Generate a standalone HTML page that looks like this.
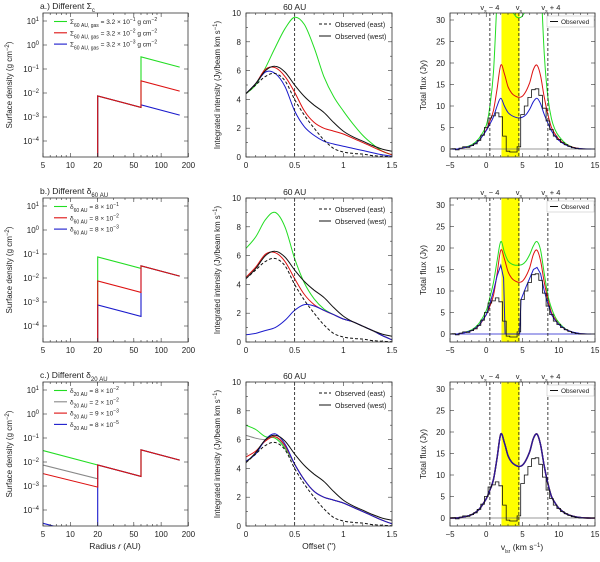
<!DOCTYPE html>
<html><head><meta charset="utf-8"><style>
body{margin:0;background:#fff}
svg{font-family:"Liberation Sans",sans-serif;}
text{fill:#222}
</style></head><body>
<svg id="fig" width="600" height="557" viewBox="0 0 600 557" xmlns="http://www.w3.org/2000/svg"></svg>
<script>
// ---------- column 1: surface density ----------
const sdA_r = [20,20,60,60,160];
const sdA_green = [1e-6,7.5e-3,2.5e-3,0.32,0.12];
const sdA_red = [1e-6,7.5e-3,2.5e-3,0.032,0.012];
const sdA_blue = [1e-6,7.5e-3,2.5e-3,3.2e-3,1.2e-3];
const sdB_r = [20,20,60,60,160];
const sdB_green = [1e-6,0.075,0.025,0.032,0.012];
const sdB_red = [1e-6,7.5e-3,2.5e-3,0.032,0.012];
const sdB_blue = [1e-6,7.5e-4,2.5e-4,0.032,0.012];
const sdC_r = [5,20,20,60,60,160];
const sdC_green = [0.03,0.0075,0.0075,0.0025,0.032,0.012];
const sdC_gray = [0.0075,0.002,0.0075,0.0025,0.032,0.012];
const sdC_red = [0.0033,0.0009,0.0075,0.0025,0.032,0.012];
const sdC_blue = [2.8e-5,7e-6,0.0075,0.0025,0.032,0.012];
const sdYTicks = [1,0,-1,-2,-3,-4];
const sdXTicks = [5,10,20,50,100,200];
// ---------- column 2: intensity profiles ----------
const offX = [0,0.1,0.2,0.3,0.4,0.5,0.6,0.7,0.8,0.9,1.0,1.1,1.2,1.3,1.4,1.5];
const ipA_green = [4.4,5.0,6.2,7.6,8.9,9.7,9.2,7.6,5.6,4.2,3.2,2.3,1.5,0.9,0.4,0.15];
const ipA_red = [4.4,5.1,6.1,6.2,5.6,4.5,3.2,2.4,2.0,1.8,1.6,1.3,1.0,0.7,0.4,0.15];
const ipA_blue = [4.4,5.1,5.9,5.8,4.9,3.2,2.1,1.5,1.1,0.9,0.75,0.6,0.45,0.3,0.15,0.05];
const ipB_green = [6.5,7.3,8.5,9.0,8.0,5.8,4.1,3.0,2.3,1.9,1.6,1.4,1.1,0.8,0.45,0.15];
const ipB_red = [4.5,5.2,6.1,6.2,5.6,4.4,3.3,2.6,2.2,1.9,1.6,1.4,1.1,0.8,0.45,0.15];
const ipB_blue = [0.5,0.6,0.8,1.0,1.5,2.2,2.6,2.5,2.2,1.9,1.6,1.4,1.1,0.8,0.45,0.15];
const ipC_green = [7.0,6.7,6.2,6.1,5.4,4.3,3.2,2.4,2.0,1.8,1.6,1.3,1.0,0.7,0.4,0.15];
const ipC_gray = [6.3,6.1,6.0,6.2,5.5,4.3,3.2,2.4,2.0,1.8,1.6,1.3,1.0,0.7,0.4,0.15];
const ipC_red = [4.8,5.2,5.9,6.2,5.6,4.3,3.2,2.4,2.0,1.8,1.6,1.3,1.0,0.7,0.4,0.15];
const ipC_blue = [4.5,5.0,6.0,6.4,5.7,4.3,3.2,2.4,2.0,1.8,1.6,1.3,1.0,0.7,0.4,0.15];
const obsWest = [4.4,5.1,6.0,6.3,5.9,5.0,4.2,3.6,3.1,2.4,1.8,1.4,1.1,0.8,0.55,0.4];
const obsEast = [4.4,5.0,5.6,5.8,5.3,4.0,2.9,2.0,1.2,0.6,0.35,0.25,0.2,0.1,0.05,0.02];
const ipYTicks = [0,2,4,6,8,10];
const ipXTicks = [0,0.5,1,1.5];
// ---------- column 3: spectra ----------
const specX = [-5,-4,-3,-2,-1,0,0.5,1,1.5,2,2.5,3,3.5,4,4.5,5,5.5,6,6.5,7,7.5,8,8.5,9,9.5,10,11,12,13,14,15];
const spA_green = [0,0,0.4,1,2.5,5.5,10,18,35,50,50,40,33,31,30.5,31,33,40,50,50,40,22,12,7,4.5,3,1.2,0.4,0.1,0,0];
const spA_red = [0,0,0.3,0.8,2,4.5,6.5,9,14,19.5,17.5,14.5,13,12.3,12,12.3,13.5,15.5,18.5,19.5,17,12,8,5,3.5,2.3,1,0.4,0.1,0,0];
const spA_blue = [0,0,0.3,0.8,2,4.3,5.8,7.5,10,11.8,10,8.5,7.8,7.4,7.2,7.4,8,9.3,11,11.8,10.5,8,6,4.2,3,2,0.9,0.3,0.1,0,0];
const spB_green = [0,0,0.4,1,2.5,5.5,8.5,12,17,21.5,19,17,16.3,16,16,16.2,17,18.5,20.5,21.5,19.5,14,9,6,4,2.7,1.1,0.4,0.1,0,0];
const spB_red = [0,0,0.3,0.8,2,4.5,6.5,9,14,19.5,17.5,14.5,13,12.3,12,12.3,13.5,15.5,18.5,19.5,17,12,8,5,3.5,2.3,1,0.4,0.1,0,0];
const specXb = [-5,-4,-3,-2,-1,0,0.5,1,1.5,2,2.4,2.6,3,4,4.6,4.8,5.5,6,6.5,7,7.5,8,8.5,9,9.5,10,11,12,13,14,15];
const spB_blue = [0,0,0.3,0.8,2,4.5,7,10,13.5,16,13,0,0,0,0,8,11,13,15,15.5,14,10,7,4.5,3.2,2.2,1,0.4,0.1,0,0];
const spC_all = [0,0,0.3,0.8,2,4.5,6.5,9,14,19.5,17.5,14.5,13,12.3,12,12.3,13.5,15.5,18.5,19.5,17,12,8,5,3.5,2.3,1,0.4,0.1,0,0];
const obsX = [-5,-4.5,-4,-3.5,-3,-2.5,-2,-1.5,-1,-0.5,0,0.5,1,1.5,2,2.5,3,3.5,4,4.5,5,5.5,6,6.5,7,7.5,8,8.5,9,9.5,10,10.5,11,11.5,12,12.5,13,13.5,14,14.5,15];
const obsFlux = [0,0.1,-0.2,0.2,0.5,0.4,0.8,1.2,2,3.2,5,7.2,7.7,8.4,7.5,3,-0.5,-0.7,-0.7,0.5,8,10,12,13.8,14,12.5,9.5,6.5,4.5,3,2.2,1.5,1,0.6,0.3,0.1,0,0,0,0,0];
const spYTicks = [0,5,10,15,20,25,30];
const spXTicks = [-5,0,5,10,15];
const vLines = [0.5,4.5,8.5];

const NS="http://www.w3.org/2000/svg";
const svg=document.getElementById('fig');
function mk(tag,attrs,parent){const e=document.createElementNS(NS,tag);for(const k in attrs)e.setAttribute(k,attrs[k]);(parent||svg).appendChild(e);return e;}
const GREEN="#22dd22",RED="#dd1111",BLUE="#1a1acc",GRAY="#888",BLK="#111";
const rowDy=[0,185,369];
const cols=[{x0:43,x1:188},{x0:246,x1:392},{x0:450,x1:595}];
const TOP=13,BOT=157;

function smoothPath(pts){
  let d=`M${pts[0][0].toFixed(1)},${pts[0][1].toFixed(1)}`;
  for(let i=0;i<pts.length-1;i++){
    const p0=pts[Math.max(0,i-1)],p1=pts[i],p2=pts[i+1],p3=pts[Math.min(pts.length-1,i+2)];
    const c1=[p1[0]+(p2[0]-p0[0])/6,p1[1]+(p2[1]-p0[1])/6];
    const c2=[p2[0]-(p3[0]-p1[0])/6,p2[1]-(p3[1]-p1[1])/6];
    d+=`C${c1[0].toFixed(1)},${c1[1].toFixed(1)} ${c2[0].toFixed(1)},${c2[1].toFixed(1)} ${p2[0].toFixed(1)},${p2[1].toFixed(1)}`;
  }
  return d;
}
function linePath(pts){return pts.map((p,i)=>(i?'L':'M')+p[0].toFixed(1)+','+p[1].toFixed(1)).join('');}

function frame(c,r,id){
  const x0=cols[c].x0,x1=cols[c].x1,t=TOP+rowDy[r],b=BOT+rowDy[r];
  const cp=mk('clipPath',{id:id});mk('rect',{x:x0,y:t,width:x1-x0,height:b-t},cp);
  const g=mk('g',{'clip-path':`url(#${id})`});
  
  
  return {g,x0,x1,t,b};
}
function border(f,name){
  const r=mk('rect',{x:f.x0,y:f.t,width:f.x1-f.x0,height:f.b-f.t,fill:'none',stroke:'#333','stroke-width':0.8});
  
  
}
function tickX(f,px,len){mk('line',{x1:px,x2:px,y1:f.b,y2:f.b-len,stroke:'#333','stroke-width':0.6});mk('line',{x1:px,x2:px,y1:f.t,y2:f.t+len,stroke:'#333','stroke-width':0.6});}
function tickY(f,py,len){mk('line',{x1:f.x0,x2:f.x0+len,y1:py,y2:py,stroke:'#333','stroke-width':0.6});mk('line',{x1:f.x1,x2:f.x1-len,y1:py,y2:py,stroke:'#333','stroke-width':0.6});}
function txt(x,y,s,opts,name){const t=mk('text',Object.assign({x:x,y:y,'font-size':8},opts||{}));t.innerHTML=s;return t;}
function series(g,d,color,name,extra){const p=mk('path',Object.assign({d:d,fill:'none',stroke:color,'stroke-width':1},extra||{}),g);return p;}

// ---- Column 1 ----
function sdScale(r){const dy=rowDy[r];return {x:v=>43+(Math.log10(v)-Math.log10(5))*90.8,y:v=>21+dy+(1-Math.log10(v))*24};}
const sdPanels=[
 {title:'a.) Different Σ<tspan baseline-shift="sub" font-size="6">c</tspan>',r:sdA_r,ser:[[sdA_green,GREEN,'green'],[sdA_blue,BLUE,'blue'],[sdA_red,RED,'red']],
  leg:[['Σ<tspan baseline-shift="sub" font-size="5">60 AU, gas</tspan> = 3.2 × 10<tspan baseline-shift="super" font-size="5">−1</tspan> g cm<tspan baseline-shift="super" font-size="5">−2</tspan>',GREEN],
       ['Σ<tspan baseline-shift="sub" font-size="5">60 AU, gas</tspan> = 3.2 × 10<tspan baseline-shift="super" font-size="5">−2</tspan> g cm<tspan baseline-shift="super" font-size="5">−2</tspan>',RED],
       ['Σ<tspan baseline-shift="sub" font-size="5">60 AU, gas</tspan> = 3.2 × 10<tspan baseline-shift="super" font-size="5">−3</tspan> g cm<tspan baseline-shift="super" font-size="5">−2</tspan>',BLUE]]},
 {title:'b.) Different δ<tspan baseline-shift="sub" font-size="6">60 AU</tspan>',r:sdB_r,ser:[[sdB_green,GREEN,'green'],[sdB_blue,BLUE,'blue'],[sdB_red,RED,'red']],
  leg:[['δ<tspan baseline-shift="sub" font-size="5">60 AU</tspan> = 8 × 10<tspan baseline-shift="super" font-size="5">−1</tspan>',GREEN],
       ['δ<tspan baseline-shift="sub" font-size="5">60 AU</tspan> = 8 × 10<tspan baseline-shift="super" font-size="5">−2</tspan>',RED],
       ['δ<tspan baseline-shift="sub" font-size="5">60 AU</tspan> = 8 × 10<tspan baseline-shift="super" font-size="5">−3</tspan>',BLUE]]},
 {title:'c.) Different δ<tspan baseline-shift="sub" font-size="6">20 AU</tspan>',r:sdC_r,ser:[[sdC_green,GREEN,'green'],[sdC_gray,GRAY,'gray'],[sdC_blue,BLUE,'blue'],[sdC_red,RED,'red']],
  leg:[['δ<tspan baseline-shift="sub" font-size="5">20 AU</tspan> = 8 × 10<tspan baseline-shift="super" font-size="5">−2</tspan>',GREEN],
       ['δ<tspan baseline-shift="sub" font-size="5">20 AU</tspan> = 2 × 10<tspan baseline-shift="super" font-size="5">−2</tspan>',GRAY],
       ['δ<tspan baseline-shift="sub" font-size="5">20 AU</tspan> = 9 × 10<tspan baseline-shift="super" font-size="5">−3</tspan>',RED],
       ['δ<tspan baseline-shift="sub" font-size="5">20 AU</tspan> = 8 × 10<tspan baseline-shift="super" font-size="5">−5</tspan>',BLUE]]}
];
sdPanels.forEach((P,ri)=>{
  const f=frame(0,ri,'sd'+ri),s=sdScale(ri);
  P.ser.forEach(([vals,col,nm])=>{
    // blue in row 3 sits under the gray etc; draw the inner-part separately
    series(f.g,linePath(P.r.map((rv,i)=>[s.x(rv),s.y(vals[i])])),col,'sigma-line-'+nm+'-'+ri,{'stroke-width':1.1});
  });
  border(f,'sd-frame-'+ri);
  sdYTicks.forEach(e=>{const py=s.y(Math.pow(10,e));tickY(f,py,4);
    txt(f.x0-4,py+3,'10<tspan baseline-shift="super" font-size="6">'+(e<0?'−'+(-e):e)+'</tspan>',{'text-anchor':'end'},'sd-ytick-label');});
  [2,3,4,5,6,7,8,9].forEach(m=>[0.1,1,10].forEach(dec=>{const v=m*dec;if(v>=5&&v<=200)tickX(f,s.x(v),2);}));
  sdXTicks.forEach(v=>{const px=s.x(v);tickX(f,px,4);txt(px,f.b+11,String(v),{'text-anchor':'middle'},'sd-xtick-label');});
  txt(f.x0-3,f.t-4,P.title,{'font-size':8.5},'panel-title-'+ri);
  P.leg.forEach(([lab,col],i)=>{const y=f.t+11+i*11.3;
    const l=mk('line',{x1:f.x0+11,x2:f.x0+24,y1:y-2.5,y2:y-2.5,stroke:col,'stroke-width':1.1});
    
    txt(f.x0+27,y,lab,{'font-size':6.5},'legend-entry');});
  txt(0,0,'Surface density (g cm<tspan baseline-shift="super" font-size="6">−2</tspan>)',{'text-anchor':'middle',transform:`translate(12,${(f.t+f.b)/2}) rotate(-90)`},'y-axis-title');
});
txt(115,549,'Radius <tspan font-style="italic">r</tspan> (AU)',{'text-anchor':'middle','font-size':8.5},'x-axis-title-radius');

// ---- Column 2 ----
const ipPanels=[
 [[ipA_green,GREEN,'green'],[ipA_red,RED,'red'],[ipA_blue,BLUE,'blue']],
 [[ipB_green,GREEN,'green'],[ipB_red,RED,'red'],[ipB_blue,BLUE,'blue']],
 [[ipC_green,GREEN,'green'],[ipC_gray,GRAY,'gray'],[ipC_red,RED,'red'],[ipC_blue,BLUE,'blue']]
];
ipPanels.forEach((ser,ri)=>{
  const f=frame(1,ri,'ip'+ri);const dy=rowDy[ri];
  const X=v=>246+v*97.3,Y=v=>157+dy-v*14.4;
  ser.forEach(([vals,col,nm])=>series(f.g,smoothPath(offX.map((x,i)=>[X(x),Y(vals[i])])),col,'profile-'+nm+'-'+ri));
  series(f.g,smoothPath(offX.map((x,i)=>[X(x),Y(obsWest[i])])),BLK,'observed-west-'+ri);
  series(f.g,smoothPath(offX.map((x,i)=>[X(x),Y(obsEast[i])])),BLK,'observed-east-'+ri,{'stroke-dasharray':'3,2'});
  series(f.g,`M${X(0.5)},${f.t}L${X(0.5)},${f.b}`,BLK,'marker-60au-'+ri,{'stroke-dasharray':'3,2','stroke-width':0.8});
  border(f,'ip-frame-'+ri);
  ipYTicks.forEach(v=>{tickY(f,Y(v),4);txt(f.x0-5,Y(v)+3,String(v),{'text-anchor':'end'},'ip-ytick-label');});
  [1,3,5,7,9].forEach(v=>tickY(f,Y(v),2));
  ipXTicks.forEach(v=>{tickX(f,X(v),4);txt(X(v),f.b+11,String(v),{'text-anchor':'middle'},'ip-xtick-label');});
  [0.1,0.2,0.3,0.4,0.6,0.7,0.8,0.9,1.1,1.2,1.3,1.4].forEach(v=>tickX(f,X(v),2));
  txt(X(0.5),f.t-3,'60 AU',{'text-anchor':'middle','font-size':8.5},'label-60au');
  const lx=f.x0+73;
  series(svg,`M${lx},${f.t+11}L${lx+12},${f.t+11}`,BLK,'legend-line-east',{'stroke-dasharray':'3,2'});
  txt(lx+16,f.t+14,'Observed (east)',{'font-size':7},'legend-observed-east');
  series(svg,`M${lx},${f.t+23}L${lx+12},${f.t+23}`,BLK,'legend-line-west');
  txt(lx+16,f.t+26,'Observed (west)',{'font-size':7},'legend-observed-west');
  txt(0,0,'Integrated intensity (Jy/beam km s<tspan baseline-shift="super" font-size="6">−1</tspan>)',{'text-anchor':'middle','font-size':7.8,transform:`translate(220,${(f.t+f.b)/2}) rotate(-90)`},'y-axis-title');
});
txt(319,549,"Offset ('')",{'text-anchor':'middle','font-size':8.5},'x-axis-title-offset');

// ---- Column 3 ----
const spPanels=[
 [[specX,spA_green,GREEN,'green',1],[specX,spA_red,RED,'red',1],[specX,spA_blue,BLUE,'blue',1]],
 [[specX,spB_green,GREEN,'green',1],[specX,spB_red,RED,'red',1],[specXb,spB_blue,BLUE,'blue',0]],
 [[specX,spC_all,GREEN,'green',1],[specX,spC_all,GRAY,'gray',1],[specX,spC_all,RED,'red',1],[specX,spC_all,"#2a1a9a",'blue',1]]
];
spPanels.forEach((ser,ri)=>{
  const f=frame(2,ri,'sp'+ri);const dy=rowDy[ri];
  const X=v=>450+(v+5)*7.25,Y=v=>149+dy-v*4.3;
  const band=mk('rect',{x:X(2.1),y:f.t,width:X(4.6)-X(2.1),height:f.b-f.t,fill:'#ffff00'},f.g);
  
  series(f.g,`M${f.x0},${Y(0)}L${f.x1},${Y(0)}`,ri===1?BLUE:'#777','zero-line-'+ri,{'stroke-width':0.8});
  ser.forEach(([xs,vals,col,nm,sm])=>{const pts=xs.map((x,i)=>[X(x),Y(vals[i])]);
    series(f.g,sm?smoothPath(pts):linePath(pts),col,'spectrum-'+nm+'-'+ri,{'stroke-width':ri===2?1.4:1});});
  let d='';obsX.forEach((x,i)=>{const a=X(x-0.25),b=X(x+0.25),y=Y(obsFlux[i]);d+=(i?'L':'M')+a.toFixed(1)+','+y.toFixed(1)+'L'+b.toFixed(1)+','+y.toFixed(1);});
  series(f.g,d,BLK,'observed-spectrum-'+ri,{'stroke-width':0.8});
  vLines.forEach(v=>series(f.g,`M${X(v)},${f.t}L${X(v)},${f.b}`,BLK,'velocity-marker-'+ri,{'stroke-dasharray':'3,2','stroke-width':0.8}));
  border(f,'sp-frame-'+ri);
  spYTicks.forEach(v=>{tickY(f,Y(v),4);txt(f.x0-5,Y(v)+3,String(v),{'text-anchor':'end'},'sp-ytick-label');});
  spXTicks.forEach(v=>{tickX(f,X(v),4);txt(X(v),f.b+11,v<0?'−'+(-v):String(v),{'text-anchor':'middle'},'sp-xtick-label');});
  [-4,-3,-2,-1,1,2,3,4,6,7,8,9,11,12,13,14].forEach(v=>tickX(f,X(v),2));
  txt(X(0.5),f.t-3,'v<tspan baseline-shift="sub" font-size="5">s</tspan> − 4',{'text-anchor':'middle','font-size':7.5},'label-vs-minus-4');
  txt(X(4.5),f.t-3,'v<tspan baseline-shift="sub" font-size="5">s</tspan>',{'text-anchor':'middle','font-size':7.5},'label-vs');
  txt(X(8.5)+3,f.t-3,'v<tspan baseline-shift="sub" font-size="5">s</tspan> + 4',{'text-anchor':'middle','font-size':7.5},'label-vs-plus-4');
  const lg=mk('rect',{x:f.x1-48,y:f.t+3,width:47,height:11,fill:'#fff',stroke:'#bbb','stroke-width':0.5});
  
  series(svg,`M${f.x1-45},${f.t+8.5}L${f.x1-37},${f.t+8.5}`,BLK,'legend-line-observed');
  txt(f.x1-34,f.t+11,'Observed',{'font-size':6.5},'legend-observed');
  txt(0,0,'Total flux (Jy)',{'text-anchor':'middle','font-size':8.5,transform:`translate(426,${(f.t+f.b)/2}) rotate(-90)`},'y-axis-title');
});
txt(522,550,'v<tspan baseline-shift="sub" font-size="5">lsr</tspan> (km s<tspan baseline-shift="super" font-size="6">−1</tspan>)',{'text-anchor':'middle','font-size':8.5},'x-axis-title-vlsr');
</script>
</body></html>
